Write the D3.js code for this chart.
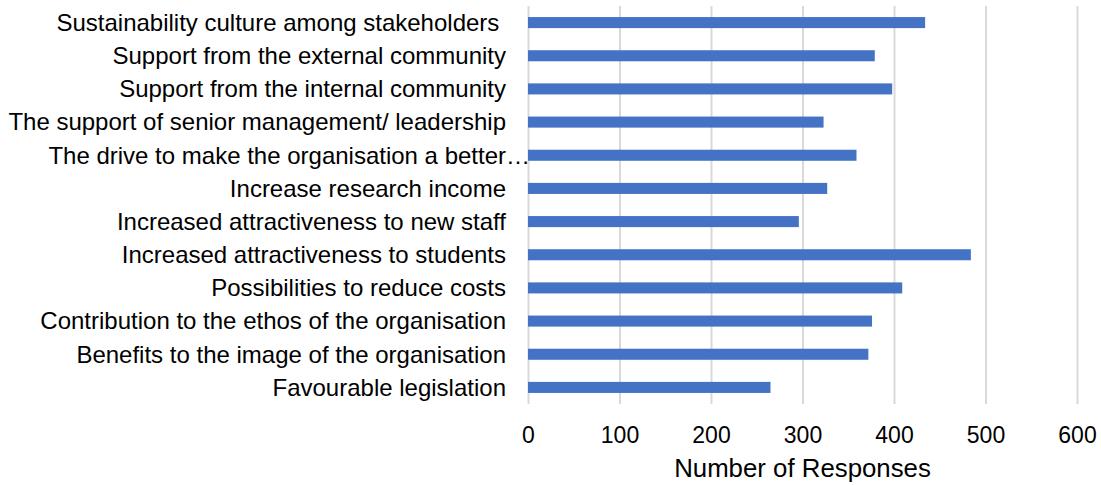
<!DOCTYPE html>
<html>
<head>
<meta charset="utf-8">
<script src="https://cdn.jsdelivr.net/npm/d3@7"></script>
<style>
  body { margin: 0; background: #fff; }
  svg { font-family: "Liberation Sans", Arial, sans-serif; }
  .tick text { white-space: pre; }
</style>
</head>
<body>
<div id="chart"></div>
<script>
// categories, top to bottom as shown
var categories = [
  "Sustainability culture among stakeholders ",
  "Support from the external community",
  "Support from the internal community",
  "The support of senior management/ leadership",
  "The drive to make the organisation a better\u2026",
  "Increase research income",
  "Increased attractiveness to new staff",
  "Increased attractiveness to students",
  "Possibilities to reduce costs",
  "Contribution to the ethos of the organisation",
  "Benefits to the image of the organisation",
  "Favourable legislation"
];
var responses = [434, 379, 398, 323, 359, 327, 296, 484, 409, 376, 372, 265];
var xTicks = [0, 100, 200, 300, 400, 500, 600];

var svgWidth = 1101;
var svgHeight = 485;

var margin = { top: 6, right: 24, bottom: 81, left: 528 };
var width = svgWidth - margin.left - margin.right;
var height = svgHeight - margin.top - margin.bottom;

var svg = d3.select("#chart")
  .append("svg")
  .attr("width", svgWidth)
  .attr("height", svgHeight);

var chartGroup = svg.append("g")
  .attr("transform", `translate(${margin.left}, ${margin.top})`);

var data = categories.map(function(c, i) {
  return { label: c, value: responses[i] };
});

var xScale = d3.scaleLinear()
  .domain([0, 600])
  .range([0, width]);

var yScale = d3.scaleBand()
  .domain(categories)
  .range([0, height])
  .paddingInner(0.667)
  .paddingOuter(0.3335);

// x axis with gridlines
var bottomAxis = d3.axisBottom(xScale)
  .tickValues(xTicks)
  .tickSize(-height)
  .tickPadding(22.7);

var xAxis = chartGroup.append("g")
  .attr("transform", `translate(0, ${height})`)
  .call(bottomAxis);

xAxis.select(".domain").remove();
xAxis.selectAll(".tick line")
  .attr("stroke", "#d9d9d9")
  .attr("stroke-width", 2);
xAxis.selectAll(".tick text")
  .attr("font-size", "23px")
  .attr("fill", "#000");

// y axis labels
var leftAxis = d3.axisLeft(yScale)
  .tickSize(0)
  .tickPadding(22);

var yAxis = chartGroup.append("g").call(leftAxis);
yAxis.select(".domain").remove();
yAxis.selectAll(".tick text")
  .attr("font-size", "24px")
  .attr("fill", "#000")
  .attr("dy", "0.35em")
  .attr("x", function(d) { return d.endsWith("\u2026") ? 2 : -22; });

// bars
chartGroup.selectAll("rect.bar")
  .data(data)
  .enter()
  .append("rect")
  .attr("class", "bar")
  .attr("x", xScale(0))
  .attr("y", d => yScale(d.label))
  .attr("width", d => xScale(d.value) - xScale(0))
  .attr("height", yScale.bandwidth())
  .attr("fill", "#4472c4");

// axis title
chartGroup.append("text")
  .attr("x", xScale(300))
  .attr("y", height + 72.7)
  .attr("text-anchor", "middle")
  .attr("font-size", "25.8px")
  .attr("fill", "#000")
  .text("Number of Responses");
</script>
</body>
</html>
